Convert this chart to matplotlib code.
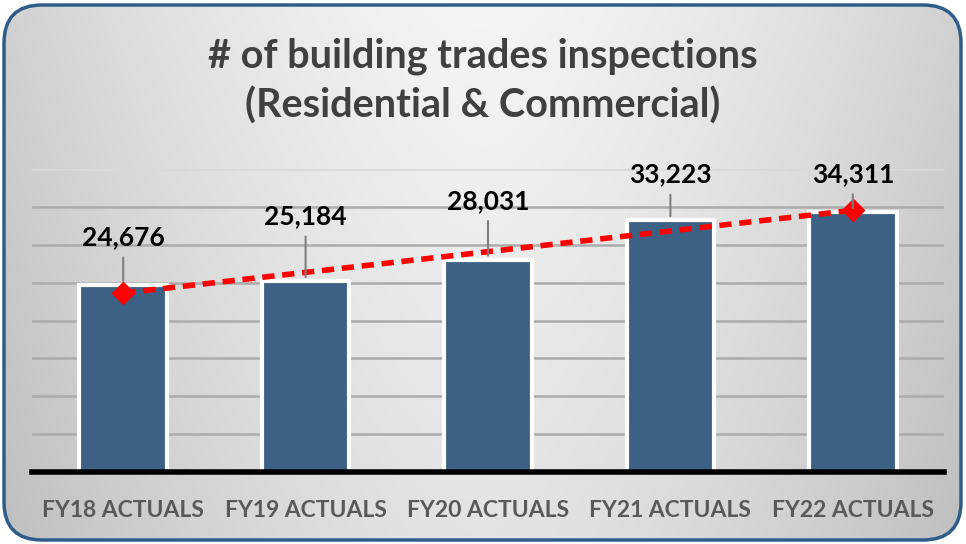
import numpy as np
import matplotlib
matplotlib.use('Agg')
import matplotlib.pyplot as plt
from matplotlib.patches import FancyBboxPatch

categories = ['FY18 ACTUALS', 'FY19 ACTUALS', 'FY20 ACTUALS', 'FY21 ACTUALS', 'FY22 ACTUALS']
inspections = [24676, 25184, 28031, 33223, 34311]
title = '# of building trades inspections\n(Residential & Commercial)'

plt.rcParams['font.family'] = ['Lato', 'DejaVu Sans']

W, H = 966, 544
fig = plt.figure(figsize=(W / 100, H / 100), dpi=100)
fig.patch.set_facecolor('white')

# background card with gradient and rounded blue border
bg = fig.add_axes([0, 0, 1, 1], zorder=0)
bg.set_xlim(0, W)
bg.set_ylim(0, H)
bg.axis('off')
xx, yy = np.meshgrid(np.linspace(-1, 1, 300), np.linspace(0, 1, 200))
shade = 0.96 - 0.14 * np.abs(xx) ** 1.5 - 0.07 * yy
img = bg.imshow(np.dstack([shade] * 3), extent=(4, W - 4, 4, H - 4), origin='upper', aspect='auto')
card = FancyBboxPatch((4, 4), W - 9, H - 9, boxstyle='round,pad=0,rounding_size=38',
                      facecolor='none', edgecolor='#2e5d8c', linewidth=2.5)
bg.add_patch(card)
img.set_clip_path(card)

ax = fig.add_axes([32 / W, 1 - 472 / H, 912 / W, 303 / H], zorder=1)
ax.set_facecolor('none')

x = np.arange(len(categories))
ax.bar(x, inspections, width=0.48, color='#3d6185', edgecolor='white', linewidth=3, zorder=3)

# linear trend line
coef = np.polyfit(x, inspections, 1)
trend = np.polyval(coef, x)
ax.plot(x, trend, color='#ff0000', linestyle=(0, (2.2, 1.4)), linewidth=4, zorder=5)
ax.plot([x[0], x[-1]], [trend[0], trend[-1]], linestyle='none', marker='D',
        markersize=11, color='#ff0000', zorder=6)

label_offsets = [48, 65, 59, 46, 38]
for i, v in enumerate(inspections):
    ax.annotate(f'{v:,}', xy=(i, v), xytext=(0, label_offsets[i]), textcoords='offset pixels',
                ha='center', va='center', fontsize=19, fontweight='bold', color='black', zorder=7,
                arrowprops=dict(arrowstyle='-', color='#7f7f7f', linewidth=1.5, shrinkA=4, shrinkB=3))

ax.set_xlim(-0.5, len(categories) - 0.5)
ax.set_ylim(0, 40000)
ax.set_yticks(np.arange(5000, 40001, 5000))
ax.yaxis.grid(True, color='#ababab', linewidth=1.8, zorder=0)
ax.get_ygridlines()[-1].set_color('#d9d9d9')
ax.tick_params(axis='y', left=False, labelleft=False)
ax.tick_params(axis='x', length=0, pad=20)
ax.set_xticks(x)
ax.set_xticklabels(categories, fontsize=16.5, fontweight='bold', color='#595959')
for s in ['top', 'right', 'left']:
    ax.spines[s].set_visible(False)
ax.spines['bottom'].set_color('black')
ax.spines['bottom'].set_linewidth(4)
ax.spines['bottom'].set_zorder(4)

fig.text(0.5, 1 - 81 / H, title, ha='center', va='center', fontsize=28.5, fontweight='bold',
         color='#404040', linespacing=1.4)

fig.savefig('out.png', dpi=100)
